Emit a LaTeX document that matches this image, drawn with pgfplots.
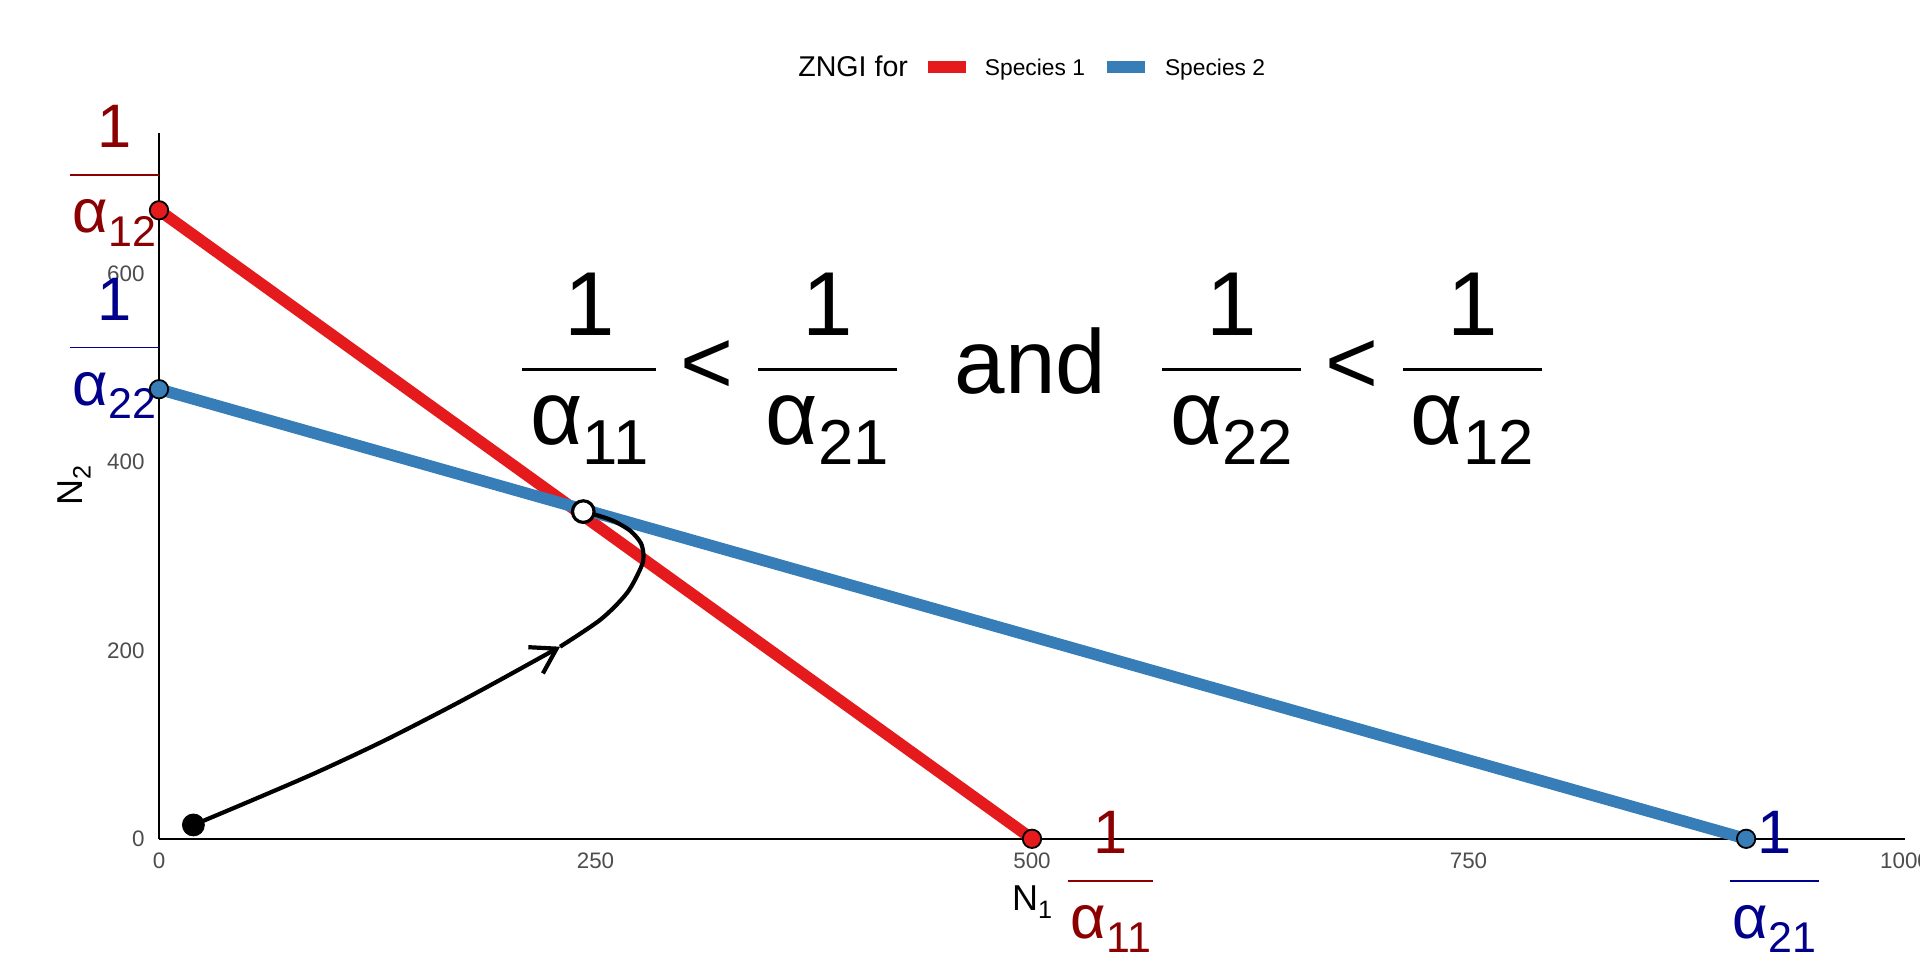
\documentclass[border=0pt]{standalone}
\usepackage{fontspec}
\setmainfont{Liberation Sans}
\usepackage{graphicx}
\usepackage{pgfplots}
\pgfplotsset{compat=1.18}
\usetikzlibrary{arrows.meta}
\definecolor{sp1}{HTML}{E41A1C}
\definecolor{sp2}{HTML}{377EB8}
\definecolor{dred}{HTML}{8B0000}
\definecolor{dblue}{HTML}{00008B}
\definecolor{tickgray}{HTML}{4D4D4D}
\def\frpad{0.04em}
\newcommand{\sub}[1]{\raisebox{-0.22em}{\scalebox{0.7}{#1}}}
\newcommand{\fr}[3]{\raisebox{\dimexpr 0.26em-#3-0.015em\relax}{\vbox{\offinterlineskip\halign{\hfil##\hfil\cr
\kern\frpad 1\kern\frpad\cr
\noalign{\kern#2\hrule height0.03em}
\vrule height#3 width0pt\kern\frpad α\sub{#1}\kern\frpad\cr}}}}
\begin{document}
\begin{tikzpicture}
\useasboundingbox (0,0) rectangle (960pt,480pt);
\begin{axis}[
  at={(79.5pt,60.6pt)}, anchor=south west,
  scale only axis, width=873pt, height=353.1pt,
  xmin=0, xmax=1000, ymin=0, ymax=750,
  axis lines=left, axis line style={-, line width=1pt, black},
  xtick={0,250,500,750,1000}, xticklabels={0,250,500,750,1000},
  ytick={0,200,400,600}, yticklabels={0,200,400,600},
  major tick length=0pt, tick style={draw=none},
  ticklabel style={font=\fontsize{11.2}{13}\selectfont, text=tickgray, inner sep=0pt},
  xticklabel style={anchor=north, yshift=-6.75pt},
  yticklabel style={anchor=east, xshift=-7pt},
  clip=false,
]
\addplot[sp1, line width=5.8pt] coordinates {(0,667.5) (500,0)};
\addplot[sp2, line width=5.8pt] coordinates {(0,477.5) (909,0)};
\addplot[black, line width=2.1pt, smooth, -{Straight Barb[length=12pt,width=15pt]}] coordinates {
(19.7,14.7) (52,39.9) (90,70.3) (128.5,103.8) (166.7,140.1) (195.3,168.7) (229.7,204)};
\addplot[black, line width=2.1pt, smooth] coordinates {
(229.7,204) (253,233) (268,261) (276,288) (277.5,300) (276,314) (270,327) (261,337) (252,343) (243,347.5)};
\addplot[only marks, mark=*, mark size=4.6pt, mark options={fill=sp1, draw=black, line width=0.9pt}] coordinates {(0,667.5) (500,0)};
\addplot[only marks, mark=*, mark size=4.6pt, mark options={fill=sp2, draw=black, line width=0.9pt}] coordinates {(0,477.5) (909,0)};
\addplot[only marks, mark=*, mark size=5.5pt, black] coordinates {(19.7,14.7)};
\addplot[only marks, mark=*, mark size=5.4pt, mark options={fill=white, draw=black, line width=1.6pt}] coordinates {(243,347.5)};
\node[anchor=base, font=\fontsize{45.4}{50}\selectfont] at (axis cs:500,473.4)
 {\def\frpad{0.085em}\fr{11}{0.36em}{0.81em}\hspace{12.25pt}<\hspace{12.25pt}\fr{21}{0.36em}{0.81em}\hspace{29pt}and\hspace{28pt}\fr{22}{0.36em}{0.81em}\hspace{12.25pt}<\hspace{12.25pt}\fr{12}{0.36em}{0.81em}};
\node[anchor=base, text=dred, font=\fontsize{30.7}{34}\selectfont] at (axis cs:-25.5,688.4) {\fr{12}{0.43em}{0.93em}};
\node[anchor=base, text=dblue, font=\fontsize{30.7}{34}\selectfont] at (axis cs:-25.5,504.9) {\fr{22}{0.43em}{0.93em}};
\node[anchor=base, text=dred, font=\fontsize{30.7}{34}\selectfont] at (axis cs:545.2,-61.5) {\fr{11}{0.43em}{0.93em}};
\node[anchor=base, text=dblue, font=\fontsize{30.7}{34}\selectfont] at (axis cs:925.3,-61.5) {\fr{21}{0.43em}{0.93em}};
\node[anchor=base, font=\fontsize{18}{20}\selectfont] at (axis cs:500,-75.7) {N\sub{1}};
\node[anchor=base, rotate=90, font=\fontsize{18}{20}\selectfont] at (axis cs:-43.7,375) {N\sub{2}};
\end{axis}
\node[anchor=base west, inner sep=0pt, font=\fontsize{14.3}{16}\selectfont] at (398.95pt,441.65pt) {ZNGI for};
\draw[sp1, line width=5.85pt] (464pt,446.5pt) -- (482.8pt,446.5pt);
\node[anchor=base west, inner sep=0pt, font=\fontsize{11.4}{13}\selectfont] at (492.25pt,442.4pt) {Species 1};
\draw[sp2, line width=5.85pt] (553.5pt,446.5pt) -- (572.3pt,446.5pt);
\node[anchor=base west, inner sep=0pt, font=\fontsize{11.4}{13}\selectfont] at (582.3pt,442.4pt) {Species 2};
\end{tikzpicture}
\end{document}
